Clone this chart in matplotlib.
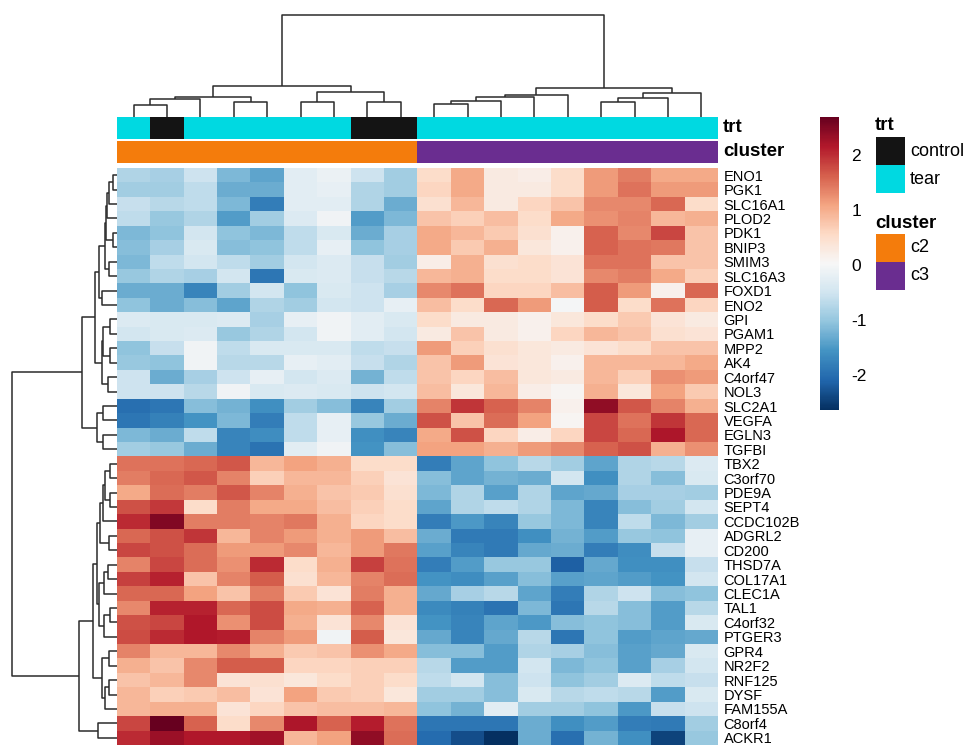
import numpy as np
import matplotlib
matplotlib.use('Agg')
import matplotlib.pyplot as plt
from matplotlib.colors import ListedColormap
from matplotlib.patches import Rectangle

plt.rcParams['font.family'] = ['Liberation Sans', 'DejaVu Sans']
plt.rcParams['axes.unicode_minus'] = False

genes = ['ENO1', 'PGK1', 'SLC16A1', 'PLOD2', 'PDK1', 'BNIP3', 'SMIM3', 'SLC16A3',
         'FOXD1', 'ENO2', 'GPI', 'PGAM1', 'MPP2', 'AK4', 'C4orf47', 'NOL3',
         'SLC2A1', 'VEGFA', 'EGLN3', 'TGFBI', 'TBX2', 'C3orf70', 'PDE9A', 'SEPT4',
         'CCDC102B', 'ADGRL2', 'CD200', 'THSD7A', 'COL17A1', 'CLEC1A', 'TAL1',
         'C4orf32', 'PTGER3', 'GPR4', 'NR2F2', 'RNF125', 'DYSF', 'FAM155A',
         'C8orf4', 'ACKR1']

trt = ['tear', 'control', 'tear', 'tear', 'tear', 'tear', 'tear', 'control', 'control',
       'tear', 'tear', 'tear', 'tear', 'tear', 'tear', 'tear', 'tear', 'tear']
cluster = ['c2'] * 9 + ['c3'] * 9

trt_colors = {'control': '#141414', 'tear': '#00D9E1'}
cluster_colors = {'c2': '#F47C0C', 'c3': '#6A2D90'}

# scaled expression, rows = genes (display order), cols = samples (display order)
expr = [
    [-0.78, -0.85, -0.52, -1.17, -1.39, -0.26, -0.13, -0.52, -0.91, 0.52, 1.04, 0.26, 0.2, 0.52, 1.17, 1.39, 1.04, 1.04],
    [-0.91, -0.91, -0.65, -1.3, -1.3, -0.26, -0.2, -0.78, -0.91, 0.59, 1.04, 0.26, 0.26, 0.52, 1.17, 1.47, 1.17, 1.17],
    [-0.59, -0.72, -0.65, -1.17, -1.81, -0.26, -0.26, -0.78, -1.3, 0.46, 0.91, 0.26, 0.59, 0.78, 1.3, 1.3, 1.56, 0.52],
    [-0.65, -0.98, -0.78, -1.47, -0.91, -0.33, -0.07, -1.47, -1.17, 0.78, 0.65, 0.85, 0.52, 1.04, 1.24, 1.34, 0.91, 0.98],
    [-1.17, -1.04, -0.46, -1.04, -1.17, -0.65, -0.39, -1.3, -0.85, 1.04, 0.91, 0.72, 0.46, 0.13, 1.6, 1.3, 1.81, 0.78],
    [-1.1, -0.85, -0.39, -1.1, -1.04, -0.65, -0.2, -1.04, -0.85, 1.04, 0.72, 0.98, 0.33, 0.13, 1.6, 1.47, 1.43, 0.78],
    [-1.17, -0.65, -0.46, -0.65, -0.91, -0.46, -0.33, -0.59, -0.91, 0.2, 0.98, 0.46, 0.52, 0.39, 1.47, 1.47, 0.78, 0.78],
    [-0.98, -0.78, -0.85, -0.46, -1.9, -0.39, -0.33, -0.59, -0.72, 0.91, 0.98, 0.52, 0.52, 0.39, 1.3, 1.39, 1.04, 0.65],
    [-1.3, -1.3, -1.73, -0.91, -0.46, -1.04, -0.39, -0.52, -0.85, 1.3, 1.47, 0.59, 0.59, 0.85, 1.64, 1.17, 0.13, 1.56],
    [-1.04, -1.3, -1.1, -1.39, -0.78, -0.91, -0.46, -0.52, -0.2, 0.85, 0.52, 1.56, 1.17, 0.0, 1.64, 0.52, 1.47, 0.59],
    [-0.33, -0.39, -0.39, -0.33, -0.85, -0.2, -0.07, -0.26, -0.39, 0.52, 0.26, 0.26, 0.13, 0.33, 0.52, 0.72, 0.39, 0.26],
    [-0.46, -0.39, -0.33, -0.98, -0.78, -0.46, -0.07, -0.26, -0.46, 0.26, 0.78, 0.26, 0.13, 0.59, 0.91, 0.78, 0.46, 0.39],
    [-1.04, -0.59, -0.07, -0.65, -0.39, -0.39, -0.39, -0.65, -0.59, 1.17, 0.65, 0.46, 0.33, 0.26, 0.39, 0.52, 0.78, 0.78],
    [-0.98, -1.04, -0.07, -0.72, -0.72, -0.2, -0.26, -0.59, -0.78, 0.78, 1.17, 0.39, 0.33, 0.13, 0.91, 0.91, 0.91, 1.04],
    [-0.52, -1.3, -0.85, -0.52, -0.2, -0.46, -0.33, -1.24, -0.65, 0.78, 0.59, 0.85, 0.33, 0.26, 0.91, 0.65, 1.24, 1.17],
    [-0.52, -0.52, -0.72, -0.07, -0.39, -0.33, -0.39, -0.52, -0.46, 0.85, 0.33, 0.91, 0.2, 0.07, 0.98, 0.33, 1.1, 0.72],
    [-1.98, -1.9, -1.1, -1.24, -1.6, -0.91, -1.1, -1.73, -0.91, 1.34, 1.94, 1.6, 1.34, 0.13, 2.38, 1.68, 1.34, 0.98],
    [-1.9, -1.77, -1.56, -1.17, -1.81, -0.65, -0.2, -0.98, -1.3, 1.73, 0.78, 1.51, 1.1, 0.07, 1.81, 1.47, 1.94, 1.56],
    [-1.17, -1.3, -0.65, -1.73, -1.64, -0.65, -0.2, -1.6, -1.73, 1.04, 1.73, 0.59, 0.2, 0.59, 1.81, 1.56, 2.19, 1.56],
    [-0.91, -0.98, -1.3, -1.73, -1.94, -0.26, -0.07, -1.56, -1.1, 1.1, 1.1, 0.98, 1.17, 1.3, 1.6, 1.73, 0.98, 1.24],
    [1.47, 1.47, 1.56, 1.68, 0.91, 1.1, 0.98, 0.52, 0.52, -1.81, -1.39, -1.04, -0.72, -0.91, -1.39, -0.78, -0.72, -0.33],
    [1.39, 1.56, 1.68, 1.34, 0.65, 0.91, 0.91, 0.65, 0.39, -1.1, -1.39, -1.24, -1.3, -0.46, -1.6, -0.78, -1.1, -0.39],
    [1.04, 1.51, 1.39, 1.68, 1.34, 0.98, 0.78, 0.72, 0.46, -1.17, -0.78, -1.43, -0.78, -1.39, -1.34, -0.85, -0.85, -0.91],
    [1.73, 1.9, 0.52, 1.39, 1.04, 1.04, 0.85, 0.65, 0.52, -1.39, -0.78, -0.65, -0.78, -1.17, -1.73, -1.1, -0.91, -0.46],
    [2.02, 2.49, 1.39, 1.39, 1.34, 1.43, 0.98, 0.59, 0.52, -1.81, -1.51, -1.73, -0.98, -1.17, -1.73, -0.65, -1.17, -0.91],
    [1.56, 1.73, 1.94, 0.91, 1.34, 1.17, 0.98, 1.17, 0.85, -1.3, -1.85, -1.85, -1.6, -1.24, -1.47, -0.98, -1.04, -0.2],
    [1.81, 1.73, 1.51, 1.17, 1.17, 1.3, 0.91, 1.17, 1.43, -1.43, -1.73, -1.85, -1.34, -1.3, -1.81, -1.64, -0.59, -0.2],
    [1.34, 1.81, 1.51, 1.24, 2.02, 0.52, 0.98, 1.85, 1.47, -1.81, -1.47, -0.98, -0.98, -2.15, -1.34, -1.6, -1.6, -0.59],
    [1.85, 2.07, 0.78, 1.34, 1.64, 0.46, 0.91, 1.34, 1.51, -1.56, -1.64, -1.43, -1.1, -1.43, -1.39, -1.47, -1.56, -0.46],
    [1.56, 1.56, 1.1, 0.78, 1.39, 0.72, 0.39, 1.39, 0.98, -1.34, -0.85, -0.72, -1.39, -1.81, -0.78, -0.52, -1.1, -1.04],
    [1.3, 2.07, 2.07, 1.56, 1.77, 1.04, 0.98, 1.6, 0.98, -1.68, -1.77, -1.94, -1.17, -1.9, -0.72, -1.1, -1.47, -0.72],
    [1.73, 1.81, 2.15, 1.24, 1.77, 0.98, 0.39, 1.3, 0.39, -1.56, -1.73, -1.39, -1.51, -1.1, -1.04, -1.1, -1.47, -0.39],
    [1.77, 2.02, 2.15, 2.11, 1.34, 1.17, -0.07, 1.64, 0.33, -1.34, -1.73, -1.34, -0.72, -1.9, -1.04, -1.47, -1.39, -1.34],
    [1.34, 0.91, 0.91, 1.3, 0.98, 0.72, 0.78, 1.24, 1.04, -1.1, -1.1, -1.47, -0.78, -0.85, -1.1, -1.43, -1.34, -0.39],
    [0.98, 0.78, 1.3, 1.64, 1.64, 0.59, 0.59, 0.65, 0.65, -0.72, -1.47, -1.47, -0.46, -1.17, -1.04, -1.43, -0.85, -0.46],
    [0.78, 0.91, 1.3, 0.39, 0.46, 0.33, 0.52, 0.65, 0.52, -0.65, -0.46, -1.1, -0.52, -1.04, -0.91, -0.33, -0.65, -0.59],
    [0.91, 0.65, 0.72, 0.85, 0.39, 1.1, 0.72, 0.65, 0.33, -0.91, -0.91, -1.1, -0.39, -0.72, -0.65, -0.72, -1.47, -0.39],
    [0.91, 0.98, 0.98, 0.39, 0.59, 0.78, 0.85, 0.85, 0.91, -1.04, -1.24, -0.26, -0.91, -0.91, -1.04, -1.51, -0.59, -0.52],
    [1.81, 2.69, 1.6, 0.52, 1.3, 2.19, 1.6, 2.11, 1.47, -1.9, -1.9, -1.9, -1.3, -1.6, -1.47, -1.81, -1.85, -0.91],
    [2.02, 2.3, 2.15, 2.15, 2.26, 0.91, 1.1, 2.38, 1.51, -2.02, -2.34, -2.64, -1.3, -1.98, -1.24, -1.6, -2.45, -0.98],
]

# merge steps (left, right, height); ids >= n refer to earlier merges
col_tree = [(0, 1, 11.4), (18, 2, 17.2), (3, 4, 14.6), (19, 20, 19.8),
            (5, 6, 14.6), (7, 8, 14.6), (22, 23, 25.0), (21, 24, 30.2),
            (9, 10, 12.3), (26, 11, 15.3), (27, 12, 19.5), (28, 13, 22.0),
            (14, 15, 14.6), (30, 16, 18.5), (31, 17, 23.4), (29, 32, 28.6),
            (25, 33, 100.0)]

row_tree = [(0, 1, 4), (40, 2, 8), (41, 3, 10), (4, 5, 4), (42, 43, 11),
            (6, 7, 8), (44, 45, 12), (8, 9, 15), (46, 47, 18), (10, 11, 7),
            (12, 13, 7), (49, 50, 14), (14, 15, 9), (51, 52, 15), (48, 53, 22),
            (16, 17, 14), (18, 19, 14), (55, 56, 20), (54, 57, 34),
            (20, 21, 7), (22, 23, 7), (59, 60, 12), (61, 24, 14), (25, 26, 8),
            (62, 63, 17), (27, 28, 9), (65, 29, 13), (30, 31, 7), (67, 32, 13),
            (66, 68, 18), (64, 69, 20), (33, 34, 8), (35, 36, 8), (72, 37, 12),
            (71, 73, 15), (70, 74, 24), (38, 39, 19), (75, 76, 37), (58, 77, 103)]


def dendro_segments(tree, n):
    pos = {i: i + 0.5 for i in range(n)}
    hgt = {i: 0.0 for i in range(n)}
    segs = []
    for k, (a, b, h) in enumerate(tree):
        segs.append(([pos[a], pos[a], pos[b], pos[b]], [hgt[a], h, h, hgt[b]]))
        pos[n + k] = (pos[a] + pos[b]) / 2
        hgt[n + k] = h
    return segs


W, H = 970, 745
fig = plt.figure(figsize=(W / 100, H / 100), dpi=100)


def px_axes(x0, y0, x1, y1):
    # pixel box (top-left origin) -> figure axes
    return fig.add_axes([x0 / W, 1 - y1 / H, (x1 - x0) / W, (y1 - y0) / H])


data = np.array(expr)
nrow, ncol = data.shape
hx0, hx1, hy0, hy1 = 117, 718, 168, 745

# heatmap
ax = px_axes(hx0, hy0, hx1, hy1)
im = ax.imshow(data, cmap='RdBu_r', vmin=-2.64, vmax=2.69, aspect='auto',
               interpolation='nearest', extent=(0, ncol, nrow, 0))
ax.set_xticks([])
ax.set_yticks(np.arange(nrow) + 0.5)
ax.set_yticklabels(genes, fontsize=10.5)
ax.yaxis.tick_right()
ax.tick_params(axis='y', length=0, pad=4)
for s in ax.spines.values():
    s.set_visible(False)

# annotation bars
for (name, vals, cmap_d, y0, y1) in [('trt', trt, trt_colors, 117, 139),
                                     ('cluster', cluster, cluster_colors, 141, 163)]:
    keys = list(cmap_d)
    axa = px_axes(hx0, y0, hx1, y1)
    axa.imshow([[keys.index(v) for v in vals]], cmap=ListedColormap([cmap_d[k] for k in keys]),
               vmin=-0.5, vmax=len(keys) - 0.5, aspect='auto', interpolation='nearest',
               extent=(0, ncol, 1, 0))
    axa.set_xticks([])
    axa.set_yticks([])
    for s in axa.spines.values():
        s.set_visible(False)
    axa.text(1.008, 0.5, name, transform=axa.transAxes, ha='left', va='center',
             fontsize=13.5, fontweight='bold')

# column dendrogram
axc = px_axes(hx0, 15, hx1, 117)
for xs, ys in dendro_segments(col_tree, ncol):
    axc.plot(xs, ys, color='#2b2b2b', lw=1.1, clip_on=False, solid_capstyle='butt')
axc.set_xlim(0, ncol)
axc.set_ylim(0, 100)
axc.axis('off')

# row dendrogram
axr = px_axes(12, hy0, hx0, hy1)
for xs, ys in dendro_segments(row_tree, nrow):
    axr.plot(ys, xs, color='#2b2b2b', lw=1.1, clip_on=False, solid_capstyle='butt')
axr.set_ylim(nrow, 0)
axr.set_xlim(103, 0)
axr.axis('off')

# colorbar
cax = px_axes(820, 117, 839, 410)
cb = fig.colorbar(im, cax=cax, ticks=[-2, -1, 0, 1, 2])
cb.outline.set_visible(False)
cax.tick_params(length=0, pad=9, labelsize=12.5)

# legends for annotations
axl = fig.add_axes([0, 0, 1, 1])
axl.set_xlim(0, W)
axl.set_ylim(H, 0)
axl.axis('off')
y = 126
for name, cmap_d in [('trt', trt_colors), ('cluster', cluster_colors)]:
    axl.text(875, y, name, fontsize=13.5, fontweight='bold', ha='left', va='center')
    y += 11
    for k, c in cmap_d.items():
        axl.add_patch(Rectangle((876, y), 29, 28, facecolor=c, edgecolor='none'))
        axl.text(910, y + 14, k, fontsize=13, ha='left', va='center')
        y += 28
    y += 30

fig.savefig('out.png', dpi=100)
